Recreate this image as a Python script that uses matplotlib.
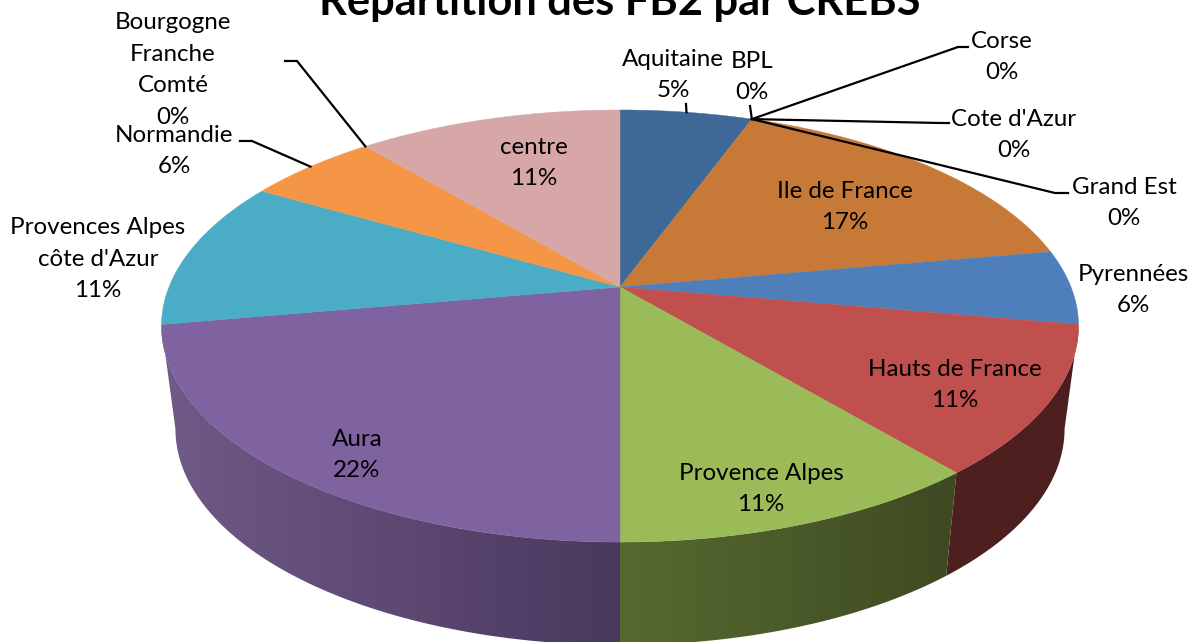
#!/usr/bin/env python3
import numpy as np
import matplotlib
matplotlib.use('Agg')
import matplotlib.pyplot as plt
from matplotlib.colors import LinearSegmentedColormap
from matplotlib.patches import Polygon

# slice sizes (number of FB2), clockwise from 12 o'clock
names = ['Aquitaine', 'BPL', 'Corse', "Cote d'Azur", 'Grand Est', 'Ile de France', 'Pyrennées',
         'Hauts de France', 'Provence Alpes', 'Aura', "Provences Alpes\ncôte d'Azur", 'Normandie',
         'Bourgogne\nFranche\nComté', 'centre']
counts = [1, 0, 0, 0, 0, 3, 1, 2, 2, 4, 2, 1, 0, 2]
pct_labels = ['5%', '0%', '0%', '0%', '0%', '17%', '6%', '11%', '11%', '22%', '11%', '6%', '0%', '11%']
top_colors = ['#3e6897', '#3e6897', '#3e6897', '#3e6897', '#c77a37', '#c77a37', '#4e7fbb',
              '#c0504d', '#9bbb59', '#7f62a0', '#4bacc6', '#f49646', '#d6a7a6', '#d6a7a6']
# side wall colours, left to right across the screen
wall_colors = {7: ('#4f2020', '#4d1e1e'), 8: ('#566a30', '#3e4a22'), 9: ('#705a87', '#4a385e')}

# label centres in pixels
label_x = [673, 752, 1002, 1014, 1124, 845, 1133, 955, 761, 357, 98, 174, 173, 534]
label_y = [75, 77, 57, 135, 203, 207, 290, 385, 489, 455, 259, 151, 70, 163]
# leader line elbows
elbows = {0: [(686, 104)], 1: [(750, 106)], 2: [(958, 47), (968, 47)], 3: [(940, 123), (949, 123)],
          4: [(1055, 193), (1068, 193)], 11: [(252, 141), (240, 141)], 12: [(297, 61), (285, 61)]}

WIDTH, HEIGHT = 1198, 642
CX, CY = 620, 287
A, B, K = 451, 209, 0.1806
WALL_SCALE, WALL_DROP = 445 / 459, 103


def project(deg, bottom=False):
    # tilted circle -> screen, the apex is not the ellipse centre
    t = np.radians(deg)
    X, Y = np.sin(t), np.cos(t)
    den = 1 + K * Y
    x, y = A * X / den, B * Y / den
    if bottom:
        return np.column_stack([CX + x * WALL_SCALE, CY - y + WALL_DROP])
    return np.column_stack([CX + x, CY - y])


fig = plt.figure(figsize=(WIDTH / 100, HEIGHT / 100), dpi=100)
ax = fig.add_axes([0, 0, 1, 1])
plt.rcParams['font.family'] = ['Lato', 'DejaVu Sans']

edges = np.concatenate([[0], np.cumsum(counts)]) * 360 / sum(counts)
SIDE_START = 100.4
SIDE_END = 259.6

# side walls first
for i, (left_c, right_c) in wall_colors.items():
    a0, a1 = max(edges[i], SIDE_START), min(edges[i + 1], SIDE_END)
    ang = np.linspace(a0, a1, 120)
    top, bot = project(ang), project(ang, bottom=True)
    outline = np.vstack([top, bot[::-1]])
    cmap = LinearSegmentedColormap.from_list('wall', [left_c, right_c])
    x0, x1 = outline[:, 0].min(), outline[:, 0].max()
    y0, y1 = outline[:, 1].min(), outline[:, 1].max()
    im = ax.imshow(np.linspace(0, 1, 256).reshape(1, -1), cmap=cmap, aspect='auto',
                   extent=(x0, x1, y1, y0), interpolation='bilinear')
    im.set_clip_path(Polygon(outline, transform=ax.transData))

ax.set_xlim(0, WIDTH)
ax.set_ylim(HEIGHT, 0)
ax.axis('off')

# top face
for i, c in enumerate(counts):
    if c == 0:
        continue
    ang = np.linspace(edges[i], edges[i + 1], 90)
    pts = np.vstack([[CX, CY], project(ang)])
    ax.fill(pts[:, 0], pts[:, 1], color=top_colors[i], lw=0.3)

# leader lines
for i, pts in elbows.items():
    mid = (edges[i] + edges[i + 1]) / 2
    start = project(np.array([mid]))[0]
    line = np.vstack([start, pts])
    ax.plot(line[:, 0], line[:, 1], color='black', lw=1.6, solid_joinstyle='miter')

# labels
for name, pct, x, y in zip(names, pct_labels, label_x, label_y):
    ax.text(x, y, name + '\n' + pct, ha='center', va='center', fontsize=17.4,
            linespacing=1.62, color='black')

ax.text(620, 15, 'Répartition des FB2 par CREBS', ha='center', va='baseline', fontsize=31.2,
        fontweight='bold', color='black')

fig.savefig('out.png', dpi=100)
